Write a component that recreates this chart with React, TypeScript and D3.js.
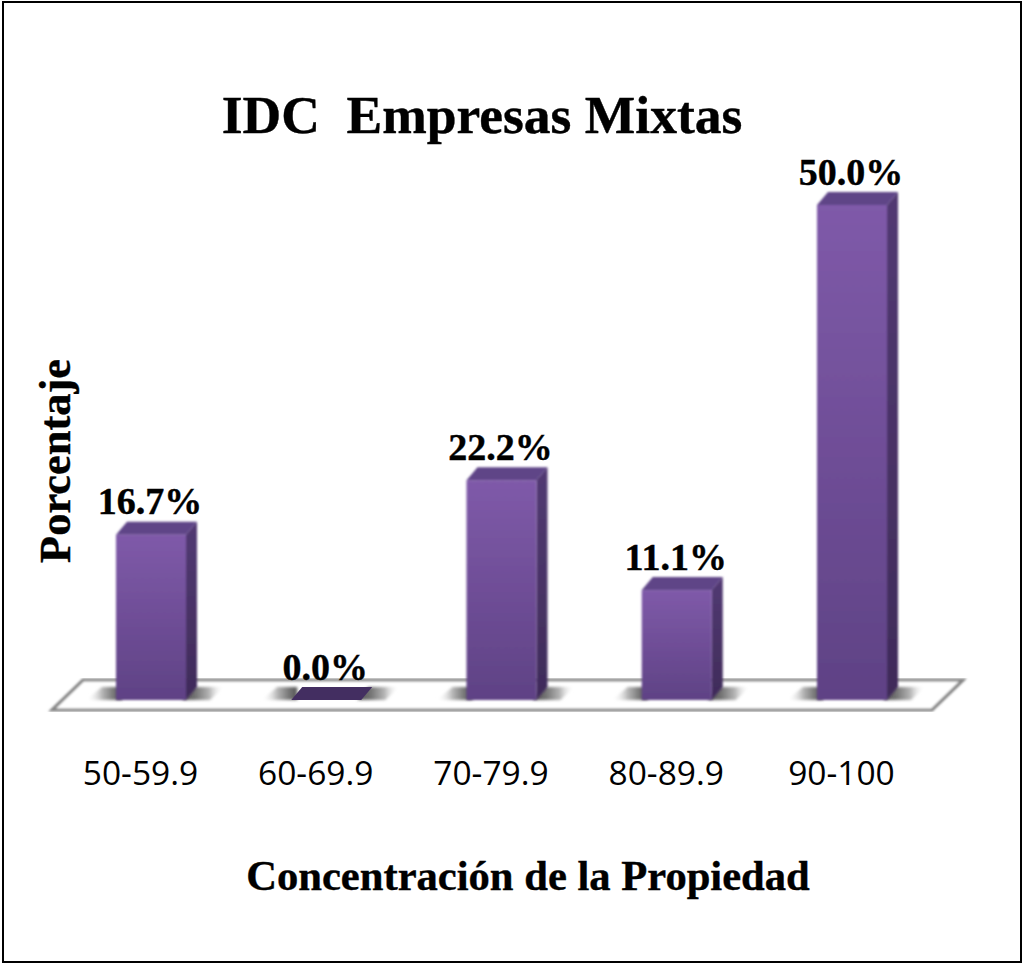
import React from "react";
import * as d3 from "d3";

const categories = ["50-59.9", "60-69.9", "70-79.9", "80-89.9", "90-100"];
const values = [16.7, 0.0, 22.2, 11.1, 50.0];
const valueLabels = ["16.7%", "0.0%", "22.2%", "11.1%", "50.0%"];
const titleText = "IDC  Empresas Mixtas";
const xTitle = "Concentración de la Propiedad";
const yTitle = "Porcentaje";

const W = 1023, H = 964;
const baseY = 700, depthX = 11, depthY = 13, barW = 70;
const x = d3.scalePoint<string>().domain(categories).range([151, 852]);
const y = d3.scaleLinear().domain([0, 50]).range([baseY, 205]);

const serif = "'Liberation Serif', 'Times New Roman', serif";
const poly = (pts: number[][]) => (d3.line()(pts as [number, number][]) as string) + "Z";

export default function App() {
  return (
    <svg width={W} height={H} viewBox={`0 0 ${W} ${H}`} style={{ position: "absolute", left: 0, top: 0, background: "#fff" }}>
      <defs>
        <linearGradient id="front" x1="0" y1="0" x2="0" y2="1">
          <stop offset="0" stopColor="#7f5aa9" />
          <stop offset="1" stopColor="#5f4285" />
        </linearGradient>
        <linearGradient id="side" x1="0" y1="0" x2="0" y2="1">
          <stop offset="0" stopColor="#523a73" />
          <stop offset="1" stopColor="#3f2b59" />
        </linearGradient>
        <linearGradient id="shadowL" x1="0" y1="0" x2="1" y2="0">
          <stop offset="0" stopColor="#fff" stopOpacity="0" />
          <stop offset="0.45" stopColor="#b5b5b5" />
          <stop offset="0.8" stopColor="#707070" />
          <stop offset="1" stopColor="#555" />
        </linearGradient>
        <linearGradient id="shadowR" x1="0" y1="0" x2="1" y2="0">
          <stop offset="0" stopColor="#555" />
          <stop offset="0.3" stopColor="#707070" />
          <stop offset="0.65" stopColor="#b5b5b5" />
          <stop offset="1" stopColor="#fff" stopOpacity="0" />
        </linearGradient>
        <filter id="blurShadow" x="-30%" y="-60%" width="160%" height="220%">
          <feGaussianBlur stdDeviation="1.4" />
        </filter>
        <filter id="soft" x="-5%" y="-5%" width="110%" height="110%">
          <feGaussianBlur stdDeviation="0.8" />
        </filter>
      </defs>

      <rect x={3} y={2} width={1018} height={960} fill="#fff" stroke="#000" strokeWidth={2} />

      <text x={482} y={133} textAnchor="middle" fontFamily={serif} fontWeight="bold" fontSize={53.5} stroke="#000" strokeWidth={0.4} xmlSpace="preserve" style={{ whiteSpace: "pre" }}>{titleText}</text>

      <path d={poly([[52, 710], [83, 680], [963, 680], [932, 710]])} fill="#fff" stroke="#858585" strokeWidth={3.2} filter="url(#soft)" />

      {categories.map((c, i) => {
        const cx = x(c) as number;
        const x0 = cx - barW / 2, x1 = cx + barW / 2;
        const top = y(values[i]);
        const isZero = values[i] === 0;
        return (
          <g key={c}>
            <g filter="url(#blurShadow)">
              <path d={poly([[x0 - 30, baseY], [x0 - 14, baseY - depthY], [x0 + 6, baseY - depthY], [x0 + 6, baseY]])} fill="url(#shadowL)" />
              <path d={poly([[x1 - 4, baseY], [x1 + depthX - 4, baseY - depthY], [x1 + 38, baseY - depthY], [x1 + 24, baseY]])} fill="url(#shadowR)" />
            </g>
            {isZero ? (
              <path d={poly([[x0, baseY], [x0 + depthX, baseY - depthY], [x1 + depthX, baseY - depthY], [x1, baseY]])} fill="#432e61" />
            ) : (
              <g filter="url(#soft)">
                <path d={poly([[x1, top], [x1 + depthX, top - depthY], [x1 + depthX, baseY - depthY], [x1, baseY]])} fill="url(#side)" />
                <path d={poly([[x0, top], [x0 + depthX, top - depthY], [x1 + depthX, top - depthY], [x1, top]])} fill="#5f4487" />
                <rect x={x0} y={top} width={barW} height={baseY - top} fill="url(#front)" />
              </g>
            )}
            <text x={cx - 1} y={top - 20.5} textAnchor="middle" fontFamily={serif} fontWeight="bold" fontSize={38} stroke="#000" strokeWidth={0.4}>{valueLabels[i]}</text>
            <text x={cx - 10.5} y={785} textAnchor="middle" fontFamily="'Open Sans', sans-serif" fontSize={33.5}>{c}</text>
          </g>
        );
      })}

      <text x={528} y={890} textAnchor="middle" fontFamily={serif} fontWeight="bold" fontSize={42.6} stroke="#000" strokeWidth={0.4}>{xTitle}</text>
      <text transform="translate(70,461) rotate(-90)" textAnchor="middle" fontFamily={serif} fontWeight="bold" fontSize={44.4} stroke="#000" strokeWidth={0.4}>{yTitle}</text>
    </svg>
  );
}
